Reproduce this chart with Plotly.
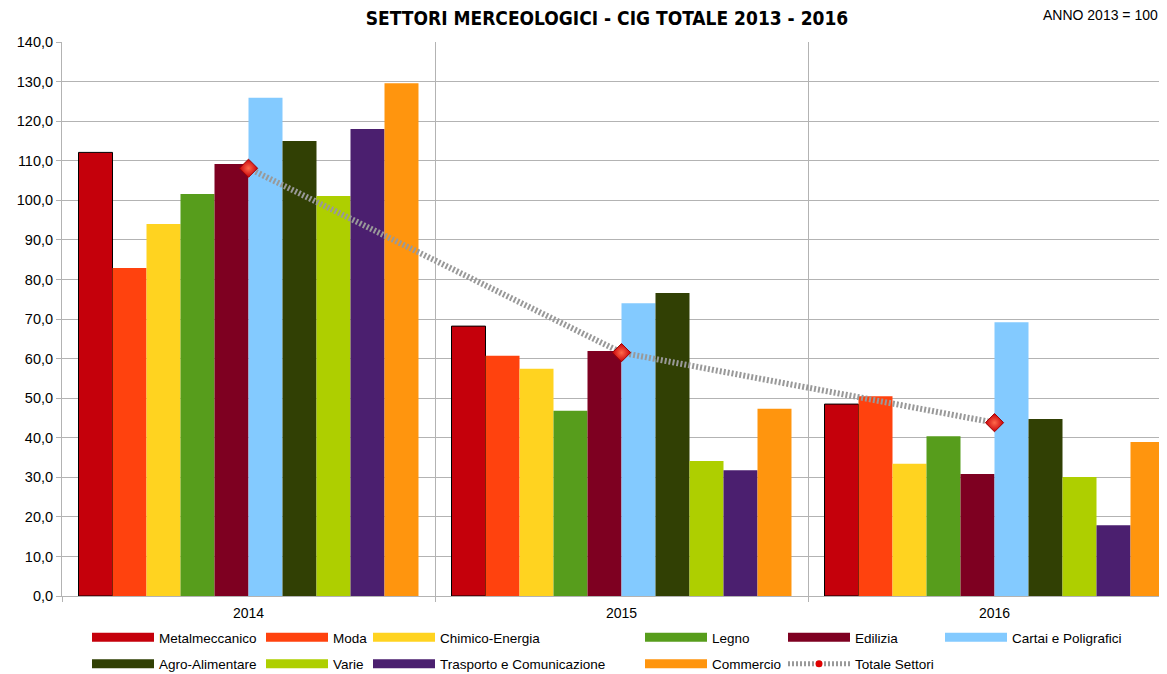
import plotly.graph_objects as go

years = ["2014", "2015", "2016"]
sectors = ["Metalmeccanico", "Moda", "Chimico-Energia", "Legno", "Edilizia",
           "Cartai e Poligrafici", "Agro-Alimentare", "Varie",
           "Trasporto e Comunicazione", "Commercio"]
metalmeccanico = [112.1, 68.2, 48.5]
moda = [82.9, 60.7, 50.5]
chimico_energia = [94.0, 57.4, 33.4]
legno = [101.6, 46.8, 40.4]
edilizia = [109.2, 61.9, 30.8]
cartai = [125.9, 74.0, 69.2]
agro = [115.0, 76.6, 44.7]
varie = [101.1, 34.1, 30.1]
trasporto = [118.0, 31.8, 17.9]
commercio = [129.6, 47.3, 38.9]
totale = [108.1, 61.5, 43.8]

series = [metalmeccanico, moda, chimico_energia, legno, edilizia, cartai,
          agro, varie, trasporto, commercio]
colors = ["#C5000B", "#FF420E", "#FFD320", "#579D1C", "#7E0021", "#83CAFF",
          "#314004", "#AECF00", "#4B1F6F", "#FF950E"]
# legend column for each sector (two-row legend with uneven columns)
legend_of = ["legend", "legend2", "legend3", "legend4", "legend5", "legend6",
             "legend", "legend2", "legend3", "legend4"]

FONT = "Liberation Sans, Arial, sans-serif"
fig = go.Figure()

for name, vals, col in zip(sectors, series, colors):
    fig.add_trace(go.Bar(
        x=years, y=vals, name=name, marker_color=col,
        marker_line=dict(color="#000000" if name == "Metalmeccanico" else col,
                         width=1 if name == "Metalmeccanico" else 0),
        showlegend=False))

fig.add_trace(go.Scatter(
    x=years, y=totale, name="Totale Settori", mode="lines+markers",
    line=dict(color="#999999", width=6, dash="2px,2px"),
    marker=dict(symbol="diamond", size=14, color="#c8000a",
                gradient=dict(type="radial", color="#ff6a4a"),
                line=dict(color="#a00000", width=1)),
    showlegend=False))

# legend proxies
for name, col, lg in zip(sectors, colors, legend_of):
    fig.add_trace(go.Scatter(
        x=[None], y=[None], mode="lines", name=name,
        line=dict(color=col, width=9), legend=lg, legendgroup=name))
fig.add_trace(go.Scatter(
    x=[None], y=[None], mode="lines+markers", name="Totale Settori",
    line=dict(color="#999999", width=5, dash="2px,2px"),
    marker=dict(symbol="circle", size=7, color="#e00000"),
    legend="legend5", legendgroup="Totale Settori"))

# the page body adds an 8px offset; the figure is sized to the visible area
OFF = 8
W, H = 1167 - OFF, 674 - OFF
L, T = 62 - OFF, 42 - OFF
B = H - (596 - OFF)
plot_w = W - L
plot_h = H - T - B
cat_w = 373.0
x_max = -0.5 + plot_w / cat_w

def px_x(sx):
    return (sx - OFF - L) / plot_w

def px_y(sy):
    return (H - B - (sy - OFF)) / plot_h

leg_common = dict(orientation="v", xanchor="left", yanchor="top",
                  font=dict(family=FONT, size=13.5, color="#000000"),
                  bgcolor="rgba(0,0,0,0)", borderwidth=0,
                  tracegroupgap=6, itemwidth=62)
leg_y = px_y(638 - 24 + OFF)
legend_x = [94, 268, 375, 647, 790, 947]
layout_legends = {}
for i, lx in enumerate(legend_x):
    key = "legend" if i == 0 else f"legend{i+1}"
    layout_legends[key] = dict(leg_common, x=px_x(lx - 7), y=leg_y)

fig.update_layout(
    width=W, height=H,
    margin=dict(l=L, r=0, t=T, b=B, autoexpand=False),
    paper_bgcolor="white", plot_bgcolor="white",
    barmode="group", bargap=0.0885, bargroupgap=0,
    separators=",.",
    font=dict(family=FONT, size=13, color="#000000"),
    title=dict(text="<b>SETTORI MERCEOLOGICI - CIG TOTALE 2013 - 2016</b>",
               x=(607 - OFF) / W, xanchor="center", xref="container",
               y=1 - (18 - OFF) / H, yanchor="middle", yref="container",
               font=dict(family="Liberation Sans Narrow, DejaVu Sans Condensed, Arial Narrow, sans-serif",
                         size=19, color="#000000")),
    xaxis=dict(type="category", range=[-0.5, x_max], tickson="boundaries",
               automargin=False,
               showgrid=True, gridcolor="#b3b3b3", gridwidth=1,
               showline=True, linecolor="#b3b3b3", linewidth=1,
               ticks="outside", ticklen=5, tickcolor="#b3b3b3",
               ticklabelstandoff=4,
               tickfont=dict(family=FONT, size=14, color="#000000")),
    yaxis=dict(range=[0, 140], dtick=10, tickformat=".1f",
               automargin=False,
               showgrid=True, gridcolor="#b3b3b3", gridwidth=1,
               showline=True, linecolor="#b3b3b3", linewidth=1,
               ticks="outside", ticklen=5, tickcolor="#b3b3b3",
               zeroline=False,
               tickfont=dict(family=FONT, size=14.5, color="#000000")),
    annotations=[dict(text="ANNO 2013 = 100", xref="paper", yref="paper",
                      x=px_x(1041), y=px_y(15),
                      xanchor="left", yanchor="middle", showarrow=False,
                      font=dict(family=FONT, size=14, color="#000000"))],
    **layout_legends,
)

fig.write_html("out.html")
